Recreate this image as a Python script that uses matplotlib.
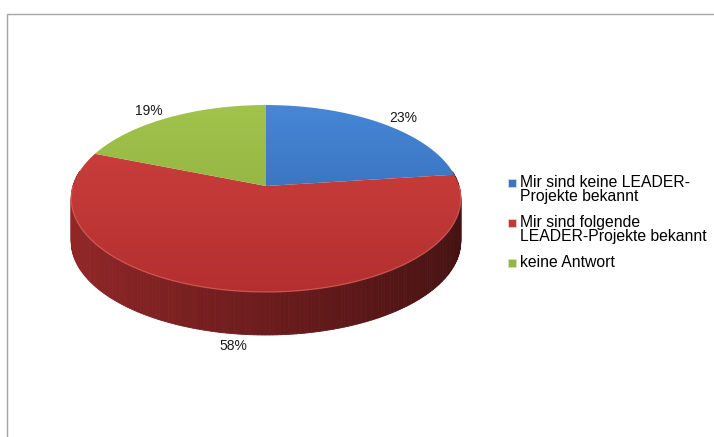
import numpy as np
import matplotlib.pyplot as plt
from matplotlib.patches import Polygon, Rectangle
from matplotlib.colors import to_rgb

plt.rcParams['font.family'] = ['Liberation Sans', 'DejaVu Sans']

labels = ['Mir sind keine LEADER-\nProjekte bekannt',
          'Mir sind folgende\nLEADER-Projekte bekannt',
          'keine Antwort']
shares = [23, 58, 19]

# top face gradient (upper colour, lower colour) per slice
top_light = ['#4787d6', '#cf423f', '#a2c44c']
top_dark = ['#2c60aa', '#b42f30', '#87a83a']

W, H = 714, 437
fig = plt.figure(figsize=(W / 100, H / 100), dpi=100)
ax = fig.add_axes([0, 0, 1, 1])

# pie geometry in pixel units, slight perspective tilt
cx, cy = 266, 186
rx, ry, persp, depth = 193, 91.8, 0.134, 43


def proj(theta, r=1.0, drop=0.0):
    t = np.radians(theta)
    u, v = r * np.cos(t), r * np.sin(t)
    d = 1 + persp * v
    return cx + rx * u / d, cy - ry * v / d + drop


total = sum(shares)
bounds = 90 - 360 * np.cumsum([0] + shares) / total

# side wall: small quads, painted back to front
quads = []
for i in range(len(shares)):
    a0, a1 = bounds[i], bounds[i + 1]
    n = max(int(abs(a0 - a1)), 2)
    th = np.linspace(a0, a1, n + 1)
    for ta, tb in zip(th[:-1], th[1:]):
        tm = 0.5 * (ta + tb)
        if np.sin(np.radians(tm)) > 0.16:
            continue
        xa, ya = proj(ta)
        xb, yb = proj(tb)
        pts = [(xa, ya), (xb, yb), (xb, yb + depth), (xa, ya + depth)]
        shade = 0.6 - 0.22 * np.cos(np.radians(tm))
        col = np.array(to_rgb(top_dark[i])) * shade
        quads.append((np.sin(np.radians(tm)), pts, col))

for _, pts, col in sorted(quads, key=lambda q: -q[0]):
    ax.add_patch(Polygon(pts, closed=True, facecolor=col, edgecolor=col,
                         lw=0.6, zorder=1))

# top faces with vertical gradient
ytop = cy - ry / (1 + persp) - 2
ybot = cy + ry / (1 - persp) + 2
g = np.linspace(0, 1, 256)[:, None, None]
for i in range(len(shares)):
    th = np.linspace(bounds[i], bounds[i + 1], 200)
    xs, ys = proj(th)
    pts = [(cx, cy)] + list(zip(xs, ys))
    poly = Polygon(pts, closed=True, facecolor='none', edgecolor='none')
    ax.add_patch(poly)
    c0 = np.array(to_rgb(top_light[i]))
    c1 = np.array(to_rgb(top_dark[i]))
    img = c0 * (1 - g) + c1 * g
    im = ax.imshow(img, extent=(cx - rx - 5, cx + rx + 5, ybot, ytop),
                   aspect='auto', origin='upper', zorder=2)
    im.set_clip_path(poly)

# light rim along the front edge
th = np.linspace(180, 360, 200)
xs, ys = proj(th)
ax.plot(xs, ys, color='#e0675e', lw=0.9, alpha=0.7, zorder=3)

# percentage labels outside the slices
for i, s in enumerate(shares):
    tm = 0.5 * (bounds[i] + bounds[i + 1])
    x, y = proj(tm)
    if np.sin(np.radians(tm)) < 0:
        y += depth
    dx, dy = x - cx, y - cy
    nrm = np.hypot(dx, dy)
    ax.text(x + 24 * dx / nrm, y + 12 * dy / nrm, f'{s}%', fontsize=10,
            color='#1a1a1a', ha='center', va='center', zorder=4)

# legend
lx, ly = 520, 187
step, gap = 14.5, 11
for i, lab in enumerate(labels):
    c = 0.5 * (np.array(to_rgb(top_light[i])) + np.array(to_rgb(top_dark[i])))
    ax.add_patch(Rectangle((lx - 12, ly - 8), 7.5, 7.5, facecolor=c,
                           edgecolor='#dddddd', lw=0.5, zorder=4))
    lines = lab.split('\n')
    for j, line in enumerate(lines):
        ax.text(lx, ly + j * step, line, fontsize=11.3, color='black',
                ha='left', va='baseline', zorder=4)
    ly += len(lines) * step + gap

# chart frame (top and left edge)
ax.plot([7, 7, W], [H, 13.5, 13.5], color='#a6a6a6', lw=1, zorder=5)

ax.set_xlim(0, W)
ax.set_ylim(H, 0)
ax.axis('off')
fig.savefig('out.png', dpi=100, facecolor='white')
